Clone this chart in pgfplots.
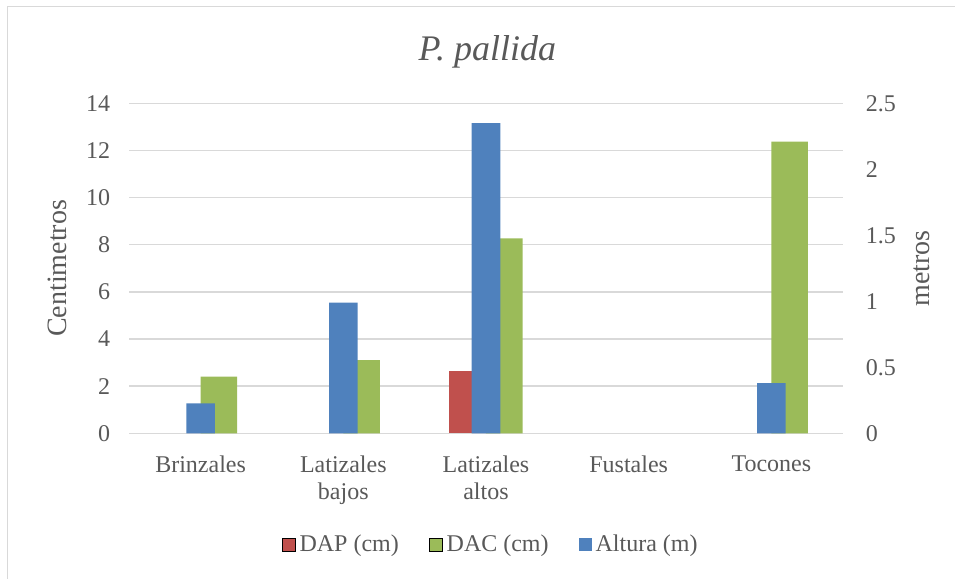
\documentclass[border=0pt]{standalone}
\usepackage{fontspec}
\setmainfont{Liberation Serif}
\usepackage{pgfplots}
\pgfplotsset{compat=1.18}
\definecolor{dapred}{HTML}{C0504D}
\definecolor{dacgreen}{HTML}{9BBB59}
\definecolor{altblue}{HTML}{4F81BD}
\definecolor{txtgray}{HTML}{595959}
\definecolor{gridgray}{HTML}{D9D9D9}
\begin{document}
\begin{tikzpicture}
\useasboundingbox (0,0) rectangle (477.5pt,289.5pt);
\draw[gridgray, line width=0.75pt] (3.75pt,0) -- (3.75pt,286.25pt) -- (477.5pt,286.25pt);
\pgfplotsset{
  common/.style={
    at={(64.65pt,72.85pt)}, anchor=south west,
    scale only axis, width=356.7pt, height=165pt,
    xmin=-0.5, xmax=4.5, ymin=0,
    /pgf/number format/assume math mode=true,
    tick style={draw=none},
    ticklabel style={font=\fontsize{12}{13.5}\selectfont, text=txtgray},
    label style={font=\fontsize{14}{16}\selectfont, text=txtgray},
    ybar,
  },
  sqlegend/.style={legend image code/.code={\fill[##1] (0pt,-3.25pt) rectangle (6.5pt,3.25pt);}},
}
\begin{axis}[common,
  ymax=14, ytick={0,2,...,14},
  axis line style={draw=none},
  ymajorgrids, grid style={gridgray, line width=0.75pt},
  xtick={0,...,4},
  xticklabels={Brinzales, {Latizales\\bajos}, {Latizales\\altos}, Fustales, Tocones},
  xticklabel style={align=center, yshift=-3.5pt},
  yticklabel style={xshift=-6pt},
  ylabel={Centimetros},
  ylabel style={at={(axis description cs:-0.1006,0.5)}, anchor=center},
  title={P. pallida},
  title style={at={(axis description cs:0.502,1.125)}, anchor=base, yshift=-5pt, font=\fontsize{18}{20}\selectfont\itshape, text=txtgray},
]
\addplot[fill=dapred, draw=none, bar width=0.256, bar shift=-0.128] coordinates {(2,2.64)};
\addplot[fill=dacgreen, draw=none, bar width=0.256, bar shift=0.128] coordinates {(0,2.40) (1,3.10) (2,8.27) (4,12.37)};
\end{axis}
\begin{axis}[common,
  ymax=2.5, ytick={0,0.5,...,2.5},
  axis y line*=right, axis x line=none,
  axis line style={draw=none},
  yticklabel style={xshift=8pt},
  ylabel={metros},
  ylabel style={at={(axis description cs:1.1107,0.5)}, anchor=center},
  legend style={at={(0.508,-0.338)}, anchor=center, draw=none, legend columns=3,
    font=\fontsize{12}{13.5}\selectfont, text=txtgray,
    /tikz/every even column/.append style={column sep=13pt}},
]
\addlegendimage{sqlegend, fill=dapred}
\addlegendentry{DAP (cm)}
\addlegendimage{sqlegend, fill=dacgreen}
\addlegendentry{DAC (cm)}
\addplot[sqlegend, fill=altblue, draw=none, bar width=0.2, bar shift=0] coordinates {(0,0.227) (1,0.99) (2,2.35) (4,0.38)};
\addlegendentry{Altura (m)}
\end{axis}
\end{tikzpicture}
\end{document}
